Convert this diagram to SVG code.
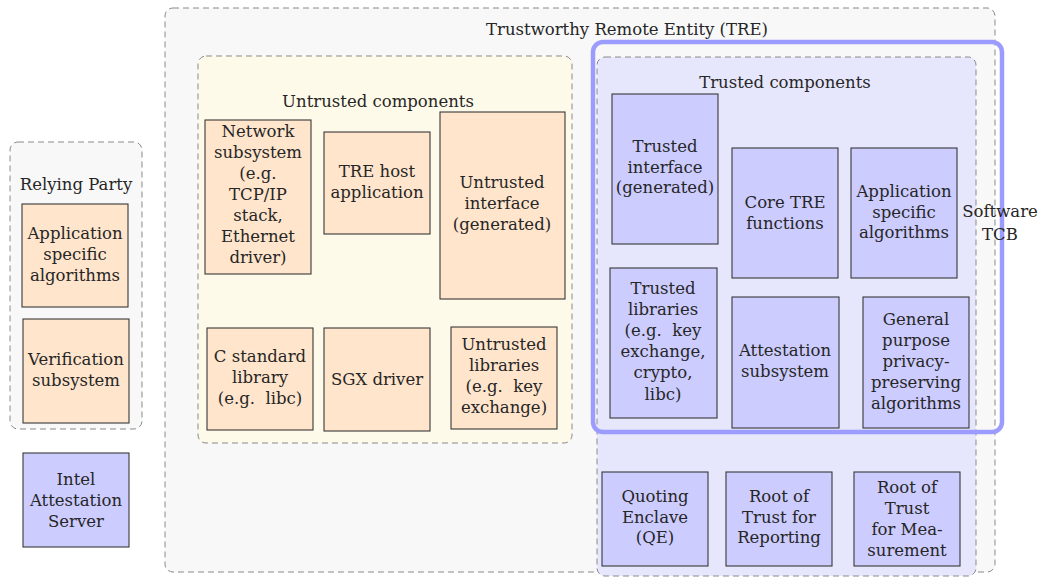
<svg xmlns="http://www.w3.org/2000/svg" width="1041" height="577" viewBox="0 0 1041 577">
  <style>
    text { font-family: "DejaVu Serif", "Liberation Serif", serif; font-size: 16.5px; fill: #262626; text-anchor: middle; }
    .group { stroke: #8a8a8a; stroke-width: 1; stroke-dasharray: 6 4; }
    .tre { fill: #f8f8f8; }
    .untrusted { fill: #fefae9; }
    .trusted { fill: #e6e6fc; }
    .tcb { fill: none; stroke: #9c9cff; stroke-width: 4.5; }
    .orange { fill: #ffe5cc; stroke: #383838; stroke-width: 1.1; }
    .blue { fill: #ccccff; stroke: #383838; stroke-width: 1.1; }
  </style>

  <!-- Containers -->
  <g id="relying-party">
    <rect class="group tre" x="10" y="142" width="132" height="287" rx="8"/>
    <text x="76" y="190">Relying Party</text>
  </g>
  <g id="tre">
    <rect class="group tre" x="165" y="8" width="830" height="564" rx="8"/>
    <text x="627" y="35">Trustworthy Remote Entity (TRE)</text>
  </g>
  <g id="untrusted-components">
    <rect class="group untrusted" x="198" y="56" width="374" height="387" rx="8"/>
    <text x="378" y="107">Untrusted components</text>
  </g>
  <g id="trusted-components">
    <rect class="group trusted" x="597" y="57" width="379" height="519" rx="8"/>
    <text x="785" y="88">Trusted components</text>
  </g>
  <g id="software-tcb">
    <rect class="tcb" x="593" y="42" width="409" height="390" rx="10"/>
    <text x="1000" y="217">Software</text>
    <text x="1000" y="240">TCB</text>
  </g>

  <!-- Relying party nodes -->
  <g id="rp-app-algorithms">
    <rect class="orange" x="22" y="204" width="106" height="103"/>
    <text x="75" y="239">Application</text>
    <text x="75" y="260">specific</text>
    <text x="75" y="281">algorithms</text>
  </g>
  <g id="rp-verification">
    <rect class="orange" x="23" y="319" width="106" height="104"/>
    <text x="76" y="365">Verification</text>
    <text x="76" y="386">subsystem</text>
  </g>
  <g id="intel-attestation-server">
    <rect class="blue" x="23" y="453" width="106" height="94"/>
    <text x="76" y="485">Intel</text>
    <text x="76" y="506">Attestation</text>
    <text x="76" y="527">Server</text>
  </g>

  <!-- Untrusted nodes -->
  <g id="network-subsystem">
    <rect class="orange" x="205" y="120" width="106" height="154"/>
    <text x="258" y="137">Network</text>
    <text x="258" y="158">subsystem</text>
    <text x="258" y="179">(e.g.</text>
    <text x="258" y="200">TCP/IP</text>
    <text x="258" y="221">stack,</text>
    <text x="258" y="242">Ethernet</text>
    <text x="258" y="263">driver)</text>
  </g>
  <g id="tre-host-application">
    <rect class="orange" x="324" y="132" width="106" height="102"/>
    <text x="377" y="177">TRE host</text>
    <text x="377" y="198">application</text>
  </g>
  <g id="untrusted-interface">
    <rect class="orange" x="440" y="112" width="125" height="187"/>
    <text x="502" y="188">Untrusted</text>
    <text x="502" y="209">interface</text>
    <text x="502" y="230">(generated)</text>
  </g>
  <g id="c-standard-library">
    <rect class="orange" x="207" y="328" width="106" height="102"/>
    <text x="260" y="362">C standard</text>
    <text x="260" y="383">library</text>
    <text x="260" y="404" xml:space="preserve">(e.g.  libc)</text>
  </g>
  <g id="sgx-driver">
    <rect class="orange" x="324" y="328" width="106" height="103"/>
    <text x="377" y="385">SGX driver</text>
  </g>
  <g id="untrusted-libraries">
    <rect class="orange" x="451" y="327" width="106" height="102"/>
    <text x="504" y="350">Untrusted</text>
    <text x="504" y="371">libraries</text>
    <text x="504" y="392" xml:space="preserve">(e.g.  key</text>
    <text x="504" y="413">exchange)</text>
  </g>

  <!-- Trusted nodes -->
  <g id="trusted-interface">
    <rect class="blue" x="612" y="94" width="106" height="150"/>
    <text x="665" y="152">Trusted</text>
    <text x="665" y="173">interface</text>
    <text x="665" y="193">(generated)</text>
  </g>
  <g id="core-tre-functions">
    <rect class="blue" x="732" y="148" width="106" height="130"/>
    <text x="785" y="208">Core TRE</text>
    <text x="785" y="229">functions</text>
  </g>
  <g id="trusted-app-algorithms">
    <rect class="blue" x="851" y="148" width="106" height="130"/>
    <text x="904" y="197">Application</text>
    <text x="904" y="218">specific</text>
    <text x="904" y="238">algorithms</text>
  </g>
  <g id="trusted-libraries">
    <rect class="blue" x="610" y="268" width="107" height="150"/>
    <text x="663" y="294">Trusted</text>
    <text x="663" y="315">libraries</text>
    <text x="663" y="336" xml:space="preserve">(e.g.  key</text>
    <text x="663" y="357">exchange,</text>
    <text x="663" y="378">crypto,</text>
    <text x="663" y="400">libc)</text>
  </g>
  <g id="attestation-subsystem">
    <rect class="blue" x="732" y="297" width="107" height="131"/>
    <text x="785" y="356">Attestation</text>
    <text x="785" y="377">subsystem</text>
  </g>
  <g id="privacy-preserving-algorithms">
    <rect class="blue" x="863" y="297" width="106" height="131"/>
    <text x="916" y="325">General</text>
    <text x="916" y="346">purpose</text>
    <text x="916" y="367">privacy-</text>
    <text x="916" y="388">preserving</text>
    <text x="916" y="409">algorithms</text>
  </g>
  <g id="quoting-enclave">
    <rect class="blue" x="602" y="472" width="106" height="94"/>
    <text x="655" y="502">Quoting</text>
    <text x="655" y="523">Enclave</text>
    <text x="655" y="543">(QE)</text>
  </g>
  <g id="root-of-trust-reporting">
    <rect class="blue" x="726" y="472" width="106" height="94"/>
    <text x="779" y="502">Root of</text>
    <text x="779" y="523">Trust for</text>
    <text x="779" y="543">Reporting</text>
  </g>
  <g id="root-of-trust-measurement">
    <rect class="blue" x="854" y="472" width="106" height="94"/>
    <text x="907" y="493">Root of</text>
    <text x="907" y="514">Trust</text>
    <text x="907" y="535">for Mea-</text>
    <text x="907" y="556">surement</text>
  </g>

  <!-- This diagram has no connectors -->
  <g id="connectors"/>
</svg>
